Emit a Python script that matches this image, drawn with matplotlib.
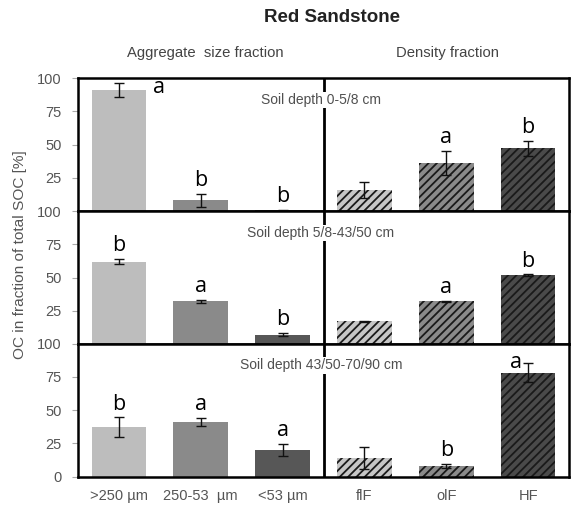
import numpy as np
import matplotlib
matplotlib.use('Agg')
import matplotlib.pyplot as plt

plt.rcParams['font.family'] = ['Liberation Sans', 'DejaVu Sans']
plt.rcParams['hatch.color'] = '#1a1a1a'
plt.rcParams['hatch.linewidth'] = 1.3

# data
categories = ['>250 µm', '250-53  µm', '<53 µm', 'flF', 'olF', 'HF']
depths = ['Soil depth 0-5/8 cm', 'Soil depth 5/8-43/50 cm', 'Soil depth 43/50-70/90 cm']
means = [
    [91, 8, 0.5, 16, 36, 47],
    [62, 32, 7, 17, 32, 52],
    [37, 41, 20, 14, 8, 78],
]
errors = [
    [5, 5, 0.3, 6, 9, 6],
    [2, 1.3, 1.2, 0.5, 0.5, 0.5],
    [7.5, 3, 4.5, 8, 1.5, 7],
]
letters = [
    ['a', 'b', 'b', '', 'a', 'b'],
    ['b', 'a', 'b', '', 'a', 'b'],
    ['b', 'a', 'a', '', 'b', 'a'],
]

colors = ['#bdbdbd', '#8a8a8a', '#575757', '#c6c6c6', '#8a8a8a', '#4a4a4a']
hatches = [None, None, None, '////', '////', '////']
# letters that sit beside the error bar instead of above it
side = {(0, 0): 'right', (2, 5): 'left'}

fig = plt.figure(figsize=(5.75, 5.11), dpi=100)
W, H = 575.0, 511.0
left, right = 78, 569
tops = [78, 211, 343.5]
ph = 133
x = np.arange(len(categories))
letter_font = ['Open Sans', 'DejaVu Sans']

for i in range(3):
    ax = fig.add_axes([left / W, 1 - (tops[i] + ph) / H, (right - left) / W, ph / H])
    for j in range(len(categories)):
        ax.bar(x[j], means[i][j], width=0.67, color=colors[j], hatch=hatches[j],
               linewidth=0, zorder=2)
    ax.errorbar(x, means[i], yerr=errors[i], fmt='none', ecolor='#111111',
                elinewidth=1, capsize=3.5, capthick=1, zorder=3)
    for j, lab in enumerate(letters[i]):
        if not lab:
            continue
        top = means[i][j] + errors[i][j]
        s = side.get((i, j))
        if s == 'right':
            ax.text(x[j] + 0.42, top - 3, lab, ha='left', va='center', fontsize=15.5,
                    family=letter_font)
        elif s == 'left':
            ax.text(x[j] - 0.08, top + 1, lab, ha='right', va='center', fontsize=15.5,
                    family=letter_font)
        else:
            ax.text(x[j], top + 2, lab, ha='center', va='bottom', fontsize=15.5,
                    family=letter_font)
    ax.axvline(2.5, color='black', lw=2, zorder=1)
    ax.text(2.47, 83.5, depths[i], ha='center', va='center', fontsize=10, color='#505050',
            bbox=dict(facecolor='white', edgecolor='none', pad=1), zorder=4)
    ax.set_xlim(-0.5, 5.5)
    ax.set_ylim(0, 100)
    if i < 2:
        ax.set_yticks([25, 50, 75, 100])
        ax.set_xticks([])
    else:
        ax.set_yticks([0, 25, 50, 75, 100])
        ax.set_xticks(x)
        ax.set_xticklabels(categories)
    ax.tick_params(axis='y', length=4, color='#aaaaaa', labelsize=10.5, labelcolor='#555555', pad=8)
    ax.tick_params(axis='x', length=0, labelsize=10.5, labelcolor='#555555', pad=9)
    for sp in ax.spines.values():
        sp.set_linewidth(1.8)
        sp.set_color('black')

fig.text(332 / W, 1 - 17 / H, 'Red Sandstone', ha='center', va='center',
         fontsize=13.5, fontweight='bold', color='#222222')
fig.text(205 / W, 1 - 53 / H, 'Aggregate  size fraction', ha='center', va='center',
         fontsize=10.7, color='#444444')
fig.text(447 / W, 1 - 53 / H, 'Density fraction', ha='center', va='center',
         fontsize=10.7, color='#444444')
fig.text(20 / W, 1 - 255 / H, 'OC in fraction of total SOC [%]', ha='center', va='center',
         rotation=90, fontsize=11.1, color='#555555')

fig.savefig('out.png', dpi=100)
